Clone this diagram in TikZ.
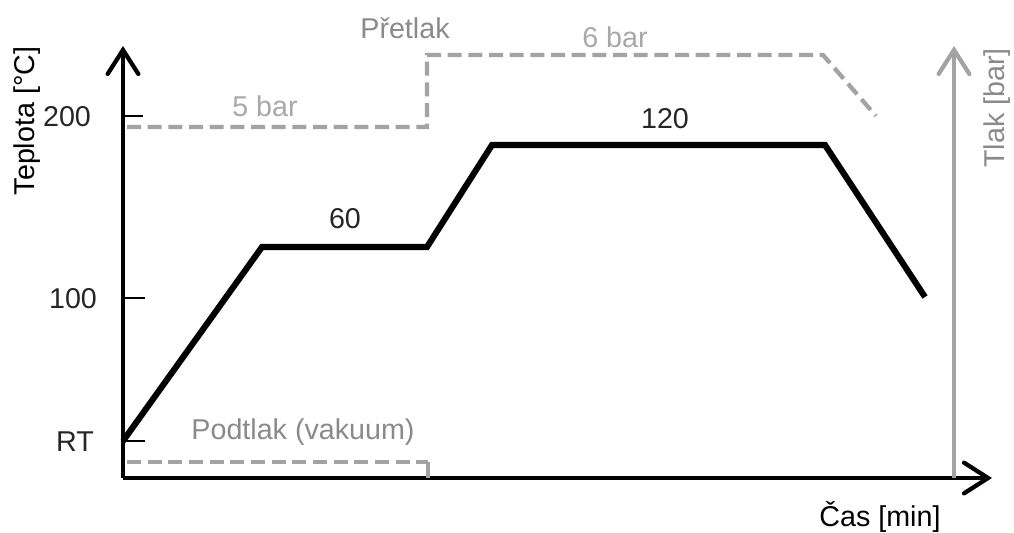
\documentclass[tikz,border=0pt]{standalone}
\usepackage{fontspec}
\setmainfont{Liberation Sans}
\usetikzlibrary{arrows.meta}
\definecolor{pgray}{HTML}{A3A3A3}
\definecolor{tgray}{HTML}{8A8A8A}
\definecolor{lgray}{HTML}{A8A8A8}
\tikzset{
  axis/.style={line width=2.6pt, black, -{Straight Barb[length=18pt,width=23pt,line width=3.2pt, line cap=round]}},
  paxis/.style={line width=2.6pt, pgray, -{Straight Barb[length=18pt,width=23pt,line width=3.2pt, line cap=round]}},
  temp/.style={line width=4.6pt, black, line join=miter},
  press/.style={line width=3.2pt, pgray, dash pattern=on 10.5pt off 5pt},
  lbl/.style={font=\fontsize{21.5}{26}\selectfont, inner sep=0pt, text=black!85},
  glbl/.style={font=\fontsize{21.5}{26}\selectfont, inner sep=0pt, text=lgray},
  dlbl/.style={font=\fontsize{21.5}{26}\selectfont, inner sep=0pt, text=tgray},
  tick/.style={line width=2pt, black}
}
\begin{document}
\begin{tikzpicture}[x=0.75pt,y=-0.75pt]
\useasboundingbox (0,0) rectangle (1014,532);
% axes
\coordinate (O) at (123,478);
\coordinate (ytop) at (123,46);
\coordinate (xend) at (992,478);
\coordinate (pbot) at (954,478);
\coordinate (ptop) at (954,46);
\draw[axis] (O) -- (ytop);
\draw[axis] (O) -- (xend);
\draw[paxis] (pbot) -- (ptop);
% ticks
\coordinate (t200a) at (123,116); \coordinate (t200b) at (143,116);
\coordinate (t100a) at (123,298); \coordinate (t100b) at (145,298);
\coordinate (tRTa) at (123,441); \coordinate (tRTb) at (145,441);
\draw[tick] (t200a) -- (t200b);
\draw[tick] (t100a) -- (t100b);
\draw[tick] (tRTa) -- (tRTb);
\node[lbl] (l200) at (67,117) {200};
\node[lbl] (l100) at (73,299) {100};
\node[lbl] (lRT) at (75,442) {RT};
\node[lbl, rotate=90, text=black] (ly) at (27,121) {Teplota [°C]};
\node[lbl, text=black] (lx) at (880,517) {Čas [min]};
\node[dlbl, rotate=90] (lp) at (997,108) {Tlak [bar]};
% temperature profile
\coordinate (a0) at (123,441);
\coordinate (a1) at (262,247);
\coordinate (a2) at (427,247);
\coordinate (a3) at (492,145);
\coordinate (a4) at (825,145);
\coordinate (a5) at (925,297);
\draw[temp] (a0) -- (a1) -- (a2) -- (a3) -- (a4) -- (a5);
\node[lbl] (l60) at (345,219) {60};
\node[lbl] (l120) at (665,119) {120};
% pressure profile
\coordinate (p0) at (127,127);
\coordinate (p1) at (427,127);
\coordinate (p2) at (427,55);
\coordinate (p3) at (823,55);
\coordinate (p4) at (876,116);
\draw[press] (p0) -- (p1) -- (p2) -- (p3) -- (p4);
\node[glbl] (l5) at (265,106) {5 bar};
\node[glbl] (l6) at (615,37) {6 bar};
\node[dlbl] (lover) at (405,28) {Přetlak};
% vacuum
\coordinate (v0) at (127,462);
\coordinate (v1) at (428,462);
\coordinate (v2) at (428,478);
\draw[press] (v0) -- (v1);
\draw[line width=3pt, pgray] (v1) -- (v2);
\node[dlbl] (lvac) at (303,432) {Podtlak (vakuum)};
\end{tikzpicture}
\end{document}
